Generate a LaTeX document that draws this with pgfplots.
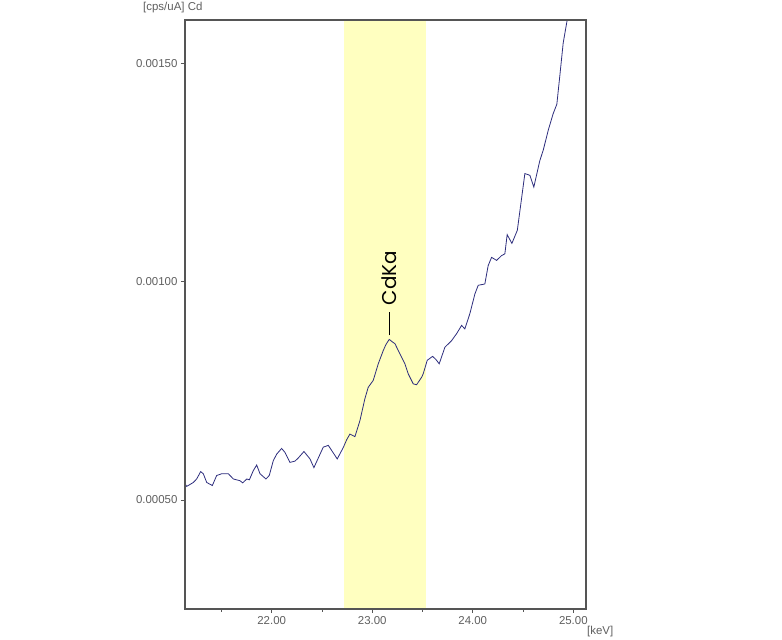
\documentclass[border=0pt]{standalone}
\usepackage{pgfplots}
\pgfplotsset{compat=1.18}
\usepackage{fontspec}
\setmainfont{Liberation Sans}
\newfontfamily\labelfont{Poppins}
\definecolor{axgray}{RGB}{85,85,85}
\definecolor{txtgray}{RGB}{95,95,95}
\definecolor{band}{RGB}{255,255,192}
\definecolor{spec}{RGB}{45,45,125}
\begin{document}
\begin{tikzpicture}
\path[use as bounding box] (-185bp,-31bp) rectangle (597bp,609bp);
\begin{axis}[
  name=ax, at={(0,0)}, anchor=south west,
  scale only axis, width=401bp, height=589bp,
  xmin=21.138, xmax=25.126, ymin=0.00025, ymax=0.0016,
  axis on top,
  tick pos=left,
  xtick={22,23,24,25}, minor xtick={21.5,22.5,23.5,24.5},
  ytick={0.0005,0.001,0.0015},
  scaled y ticks=false, scaled x ticks=false,
  xticklabel style={/pgf/number format/fixed, /pgf/number format/fixed zerofill, /pgf/number format/precision=2, /pgf/number format/assume math mode=true},
  yticklabel style={/pgf/number format/fixed, /pgf/number format/fixed zerofill, /pgf/number format/precision=5, /pgf/number format/assume math mode=true},
  tick align=outside, major tick length=4bp, minor tick length=3bp,
  axis line style={axgray, line width=1.2bp},
  every tick/.style={axgray, line width=0.8bp},
  ticklabel style={font=\fontsize{11.5}{13}\selectfont, text=txtgray},
]
\addplot[fill=band, draw=none] coordinates {(22.72,0.0002) (23.53,0.0002) (23.53,0.0017) (22.72,0.0017)} -- cycle;
\addplot[spec, line width=0.8bp] coordinates {
(21.138,0.000537) (21.155,0.000531) (21.221,0.000540) (21.254,0.000548)
(21.294,0.000565) (21.320,0.000560) (21.354,0.000540) (21.410,0.000533)
(21.453,0.000556) (21.503,0.000560) (21.569,0.000560) (21.619,0.000548)
(21.685,0.000544) (21.712,0.000539) (21.752,0.000548) (21.778,0.000546)
(21.817,0.000567) (21.851,0.000580) (21.884,0.000560) (21.943,0.000548)
(21.976,0.000556) (22.016,0.000590) (22.050,0.000605) (22.099,0.000618)
(22.132,0.000609) (22.182,0.000586) (22.232,0.000589) (22.264,0.000596)
(22.321,0.000611) (22.381,0.000594) (22.420,0.000574) (22.513,0.000621)
(22.563,0.000625) (22.612,0.000608) (22.652,0.000594) (22.712,0.000620)
(22.746,0.000638) (22.778,0.000651) (22.828,0.000645) (22.878,0.000682)
(22.927,0.000732) (22.960,0.000758) (23.010,0.000774) (23.060,0.000812)
(23.109,0.000842) (23.136,0.000856) (23.169,0.000868) (23.196,0.000863)
(23.226,0.000858) (23.275,0.000835) (23.325,0.000812) (23.358,0.000789)
(23.408,0.000766) (23.441,0.000764) (23.491,0.000781) (23.507,0.000789)
(23.547,0.000820) (23.600,0.000829) (23.633,0.000822) (23.666,0.000812)
(23.723,0.000850) (23.789,0.000865) (23.839,0.000881) (23.889,0.000900)
(23.921,0.000892) (23.971,0.000927) (24.021,0.000972) (24.054,0.000992)
(24.100,0.000994) (24.120,0.000995) (24.153,0.001037) (24.187,0.001056)
(24.237,0.001049) (24.286,0.001060) (24.319,0.001064) (24.342,0.001108)
(24.389,0.001088) (24.443,0.001118) (24.518,0.001248) (24.568,0.001244)
(24.607,0.001217) (24.667,0.001278) (24.700,0.001301) (24.750,0.001347)
(24.799,0.001385) (24.836,0.001407) (24.866,0.001473) (24.899,0.001547)
(24.938,0.001599) (24.950,0.001630)
};
\draw[black, line width=1.6bp] (axis cs:23.17,0.000877) -- (axis cs:23.17,0.000930);
\node[rotate=90, anchor=west, inner sep=0pt, font=\labelfont\fontsize{20}{24}\selectfont] at (axis cs:23.17,0.000946) {CdKa};
\end{axis}
\node[anchor=west, inner sep=0pt, text=txtgray, font=\fontsize{11.5}{13}\selectfont] at ([xshift=-42bp, yshift=12bp]ax.north west) {[cps/uA] Cd};
\node[anchor=west, inner sep=0pt, text=txtgray, font=\fontsize{11.5}{13}\selectfont] at ([xshift=1bp, yshift=-23bp]ax.south east) {[keV]};
\end{tikzpicture}
\end{document}
